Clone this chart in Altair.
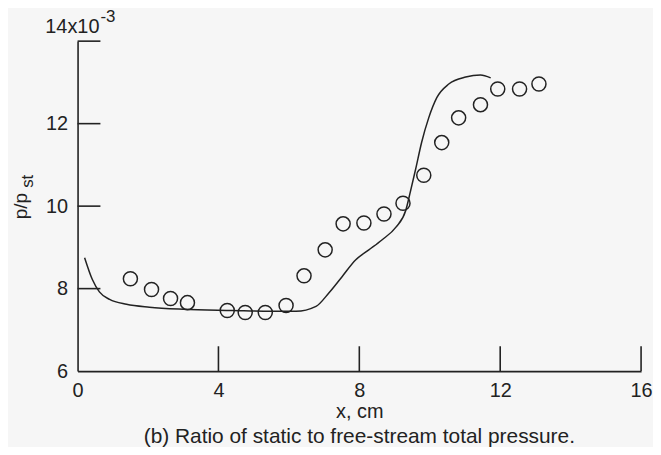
import altair as alt
import pandas as pd

# measured circles (x in cm, p/p_st in units of 1e-3)
pt_x = [1.50, 2.10, 2.64, 3.12, 4.25, 4.76, 5.33, 5.92, 6.43, 7.03, 7.54, 8.13,
        8.70, 9.24, 9.83, 10.34, 10.82, 11.44, 11.93, 12.55, 13.10]
pt_y = [8.24, 7.98, 7.76, 7.66, 7.47, 7.42, 7.42, 7.59, 8.31, 8.94, 9.57, 9.59,
        9.81, 10.07, 10.75, 11.54, 12.14, 12.46, 12.84, 12.84, 12.96]

# computed curve
line_x = [0.20, 0.42, 0.62, 0.91, 1.39, 2.04, 3.00, 4.39, 5.50, 6.20, 6.77, 7.14,
          7.51, 7.90, 8.27, 8.64, 9.04, 9.32, 9.45, 9.60, 9.77, 9.97, 10.20,
          10.54, 11.02, 11.44, 11.73]
line_y = [8.75, 8.22, 7.92, 7.74, 7.62, 7.55, 7.50, 7.47, 7.45, 7.45, 7.57, 7.90,
          8.29, 8.70, 8.94, 9.18, 9.49, 9.90, 10.35, 10.90, 11.55, 12.14, 12.63,
          12.96, 13.13, 13.18, 13.11]

x_ticks = [0, 4, 8, 12, 16]
y_ticks = [6, 8, 10, 12, 14]
x_inner_ticks = [4, 8, 12, 16]
y_inner_ticks = [8, 10, 12, 14]

x_title = "x, cm"
caption = "(b) Ratio of static to free-stream total pressure."
y_title_main = "p/p"
y_title_sub = "st"
top_label_main = "14x10"
top_label_exp = "-3"

W, H = 567, 332
FONT = "Liberation Sans"
INK = "#222222"
BG = "#f6f6f6"

pts = pd.DataFrame({"x": pt_x, "y": pt_y})
crv = pd.DataFrame({"x": line_x, "y": line_y})
xt = pd.DataFrame({"x": x_inner_ticks})
yt = pd.DataFrame({"y": y_inner_ticks})

xs = alt.Scale(domain=[0, 16], nice=False, zero=False)
ys = alt.Scale(domain=[6, 14], nice=False, zero=False)

x_axis = alt.Axis(values=x_ticks, tickSize=0, labelPadding=10, grid=False,
                  domainColor=INK, domainWidth=1.6, labelFont=FONT, labelFontSize=20,
                  labelColor=INK, labelFlush=False, title=x_title, titleFont=FONT,
                  titleFontSize=20, titleFontWeight="normal", titleColor=INK,
                  titlePadding=1)
y_axis = alt.Axis(values=y_ticks, tickSize=0, labelPadding=10, grid=False,
                  domainColor=INK, domainWidth=1.6, labelFont=FONT, labelFontSize=20,
                  labelColor=INK, labelFlush=False, title=None,
                  labelExpr="datum.value == 14 ? '' : datum.label")

X = alt.X("x:Q", scale=xs, axis=x_axis)
Y = alt.Y("y:Q", scale=ys, axis=y_axis)

circles = alt.Chart(pts).mark_point(shape="circle", filled=False, size=200,
                                    strokeWidth=1.5, color=INK, opacity=1).encode(x=X, y=Y)
curve = alt.Chart(crv).mark_line(color=INK, strokeWidth=1.5,
                                 interpolate="monotone").encode(x=X, y=Y)
xtick_rules = alt.Chart(xt).mark_rule(color=INK, strokeWidth=1.6).encode(
    x=X, y=alt.value(H), y2=alt.value(H - 25))
ytick_rules = alt.Chart(yt).mark_rule(color=INK, strokeWidth=1.6).encode(
    y=Y, x=alt.value(0), x2=alt.value(23))

txt = dict(font=FONT, color=INK)
lab14 = alt.Chart(pd.DataFrame({"t": [top_label_main]})).mark_text(
    align="right", baseline="alphabetic", fontSize=20, **txt).encode(
    text="t:N", x=alt.value(22), y=alt.value(-8))
lab_exp = alt.Chart(pd.DataFrame({"t": [top_label_exp]})).mark_text(
    align="left", baseline="alphabetic", fontSize=17, **txt).encode(
    text="t:N", x=alt.value(23), y=alt.value(-19))
ylab = alt.Chart(pd.DataFrame({"t": [y_title_main]})).mark_text(
    align="center", baseline="alphabetic", angle=270, fontSize=19, **txt).encode(
    text="t:N", x=alt.value(-51), y=alt.value(166))
ylab_sub = alt.Chart(pd.DataFrame({"t": [y_title_sub]})).mark_text(
    align="center", baseline="alphabetic", angle=270, fontSize=17, **txt).encode(
    text="t:N", x=alt.value(-45), y=alt.value(141))

chart = alt.layer(circles, curve, xtick_rules, ytick_rules, lab14, lab_exp,
                  ylab, ylab_sub).properties(
    width=W, height=H,
    autosize=alt.AutoSizeParams(type="none"),
    padding={"left": 70, "top": 32, "right": 12, "bottom": 75},
    background=BG,
    title=alt.TitleParams(caption, orient="bottom", anchor="middle", font=FONT,
                          fontSize=21, fontWeight="normal", color=INK, offset=4),
).configure_view(stroke=None)

chart.save("out.html", embed_options={"renderer": "svg", "actions": False})
